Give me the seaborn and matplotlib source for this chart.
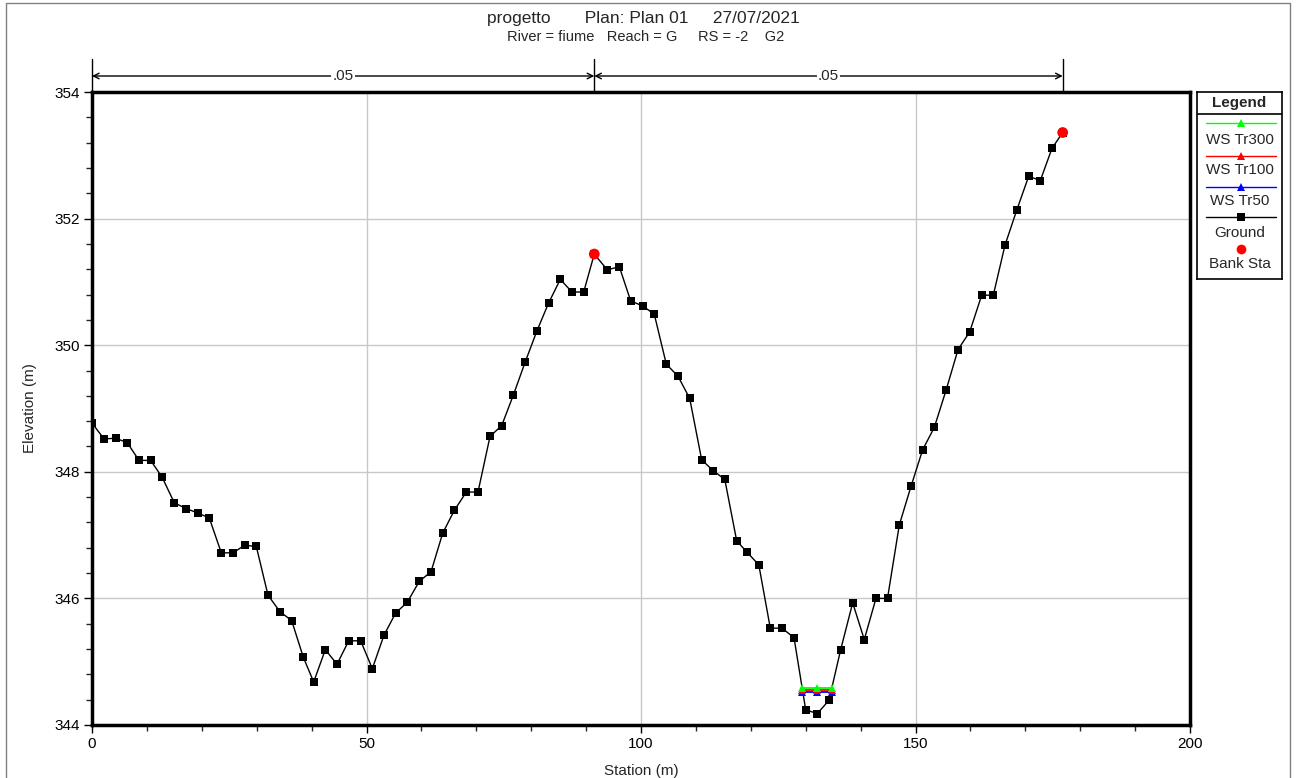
import numpy as np
import pandas as pd
import matplotlib
matplotlib.use("Agg")
import matplotlib.pyplot as plt
import matplotlib.ticker as ticker
import matplotlib.transforms as mtransforms
from matplotlib.patches import Rectangle
import seaborn as sns

# ground profile (station m, elevation m)
station = [0.0, 2.19, 4.32, 6.43, 8.56, 10.69, 12.8, 14.99, 17.12, 19.25,
           21.37, 23.55, 25.68, 27.81, 29.93, 32.06, 34.24, 36.37, 38.49, 40.38,
           42.5, 44.63, 46.76, 48.94, 51.06, 53.19, 55.32, 57.43, 59.62, 61.75,
           63.88, 65.99, 68.18, 70.31, 72.5, 74.63, 76.74, 78.93, 81.06, 83.19,
           85.3, 87.43, 89.56, 91.49, 93.86, 96.05, 98.12, 100.31, 102.42, 104.61,
           106.74, 108.87, 111.05, 113.11, 115.26, 117.43, 119.31, 121.46, 123.55, 125.68,
           127.87, 130.0, 132.11, 134.24, 136.37, 138.56, 140.67, 142.8, 144.9, 147.05,
           149.18, 151.31, 153.42, 155.61, 157.74, 159.87, 162.06, 164.17, 166.3, 168.43,
           170.62, 172.73, 174.86, 176.81]
elevation = [348.77, 348.52, 348.53, 348.46, 348.18, 348.18, 347.91, 347.51, 347.42, 347.35,
             347.27, 346.72, 346.72, 346.84, 346.82, 346.05, 345.79, 345.65, 345.07, 344.68,
             345.19, 344.96, 345.33, 345.33, 344.89, 345.42, 345.77, 345.94, 346.27, 346.42,
             347.03, 347.39, 347.68, 347.68, 348.56, 348.73, 349.21, 349.74, 350.23, 350.67,
             351.04, 350.84, 350.84, 351.44, 351.19, 351.24, 350.70, 350.62, 350.49, 349.70,
             349.51, 349.16, 348.19, 348.02, 347.88, 346.91, 346.73, 346.53, 345.53, 345.53,
             345.38, 344.24, 344.18, 344.39, 345.19, 345.93, 345.35, 346.00, 346.00, 347.16,
             347.77, 348.35, 348.70, 349.30, 349.93, 350.21, 350.79, 350.79, 351.58, 352.13,
             352.67, 352.60, 353.11, 353.36]

bank_station = [91.49, 176.81]
bank_elevation = [351.44, 353.36]

ws_station = [129.3, 132.1, 134.8]
ws_tr300 = [344.59, 344.59, 344.59]
ws_tr100 = [344.55, 344.55, 344.55]
ws_tr50 = [344.52, 344.52, 344.52]

n_limits = [0.0, 91.49, 176.81]
n_values = [".05", ".05"]

ws_colors = {"WS Tr300": "#00ff00", "WS Tr100": "#ff0000", "WS Tr50": "#0000ff"}

sns.set_style("white")
plt.rcParams['font.family'] = ['Liberation Sans', 'DejaVu Sans']

ground = pd.DataFrame({"station": station, "elevation": elevation})
ws = pd.concat([
    pd.DataFrame({"station": ws_station, "elevation": ws_tr50, "profile": "WS Tr50"}),
    pd.DataFrame({"station": ws_station, "elevation": ws_tr100, "profile": "WS Tr100"}),
    pd.DataFrame({"station": ws_station, "elevation": ws_tr300, "profile": "WS Tr300"}),
])

fig = plt.figure(figsize=(12.96, 7.78), dpi=100)
W, H = 1296, 778
ax = fig.add_axes([92 / W, 53 / H, (1190 - 92) / W, (725 - 92) / H])

sns.lineplot(data=ground, x="station", y="elevation", ax=ax, color="black", lw=1,
             marker="s", markersize=6, markeredgewidth=0, sort=False, estimator=None,
             zorder=3)
sns.lineplot(data=ws, x="station", y="elevation", hue="profile", palette=ws_colors,
             ax=ax, lw=1.3, marker="^", markersize=6, markeredgewidth=0,
             sort=False, estimator=None, legend=False, zorder=4)
sns.scatterplot(x=bank_station, y=bank_elevation, ax=ax, color="red", s=60,
                marker="o", edgecolor="none", zorder=5)

ax.set_xlim(0, 200)
ax.set_ylim(344, 354)
ax.xaxis.set_major_locator(ticker.MultipleLocator(50))
ax.xaxis.set_minor_locator(ticker.MultipleLocator(10))
ax.yaxis.set_major_locator(ticker.MultipleLocator(2))
ax.yaxis.set_minor_locator(ticker.MultipleLocator(0.4))
ax.grid(True, which="major", color="#c8c8c8", lw=1)
ax.set_axisbelow(True)
for sp in ax.spines.values():
    sp.set_linewidth(2.5)
    sp.set_color("black")
ax.tick_params(which="major", direction="out", length=6, width=1, labelsize=11,
               pad=3, colors="black", bottom=True, left=True)
ax.tick_params(which="minor", direction="out", length=4, width=1, bottom=True, left=True)
ax.set_xlabel("")
ax.set_ylabel("")

fig.text(641 / W, 1 - 771 / H, "Station (m)", ha="center", va="center", fontsize=11)
fig.text(30 / W, 1 - 408 / H, "Elevation (m)", ha="center", va="center",
         rotation=90, fontsize=11)

# roughness limits and n values above the plot
trans = mtransforms.blended_transform_factory(ax.transData, ax.transAxes)
y_top = 1 + 33 / 633
y_arr = 1 + 16 / 633
for x in n_limits:
    ax.plot([x, x], [1, y_top], color="black", lw=1, transform=trans, clip_on=False)
for i, val in enumerate(n_values):
    x0, x1 = n_limits[i], n_limits[i + 1]
    ax.annotate("", xy=(x1, y_arr), xytext=(x0, y_arr), xycoords=trans, textcoords=trans,
                arrowprops=dict(arrowstyle="<->", lw=1, color="black",
                                shrinkA=0, shrinkB=0, mutation_scale=10),
                annotation_clip=False)
    ax.text((x0 + x1) / 2, y_arr, val, transform=trans, ha="center", va="center",
            fontsize=11, bbox=dict(facecolor="white", edgecolor="none", pad=1))

fig.text(643 / W, 1 - 18 / H, "progetto       Plan: Plan 01     27/07/2021",
         ha="center", va="center", fontsize=12.5)
fig.text(646 / W, 1 - 37 / H, "River = fiume   Reach = G     RS = -2    G2",
         ha="center", va="center", fontsize=10.5)

# legend box
lax = fig.add_axes([1197 / W, 1 - 279 / H, 85 / W, 187 / H])
lax.set_xlim(1197, 1282)
lax.set_ylim(279, 92)
lax.set_xticks([])
lax.set_yticks([])
for sp in lax.spines.values():
    sp.set_linewidth(1.2)
    sp.set_color("black")
lax.axhline(114, color="black", lw=1.2)
lax.text(1239.5, 103, "Legend", ha="center", va="center", fontsize=11, fontweight="bold")
entries = [("WS Tr300", "#00ff00", "^", 123, 140),
           ("WS Tr100", "#ff0000", "^", 156, 170),
           ("WS Tr50", "#0000ff", "^", 187, 201),
           ("Ground", "black", "s", 217, 233),
           ("Bank Sta", "red", "o", 249, 264)]
for lab, col, mk, yl, yt in entries:
    if lab != "Bank Sta":
        lax.plot([1206, 1276], [yl, yl], color=col, lw=1)
    lax.plot([1241], [yl], marker=mk, color=col, markersize=6 if mk != "o" else 7,
             markeredgewidth=0)
    lax.text(1240, yt, lab, ha="center", va="center", fontsize=11)

fig.patches.append(Rectangle((6 / W, -0.01), 1284 / W, (775 / H) + 0.01,
                             transform=fig.transFigure, fill=False,
                             edgecolor="#808080", lw=1))

fig.savefig("out.png", dpi=100)
